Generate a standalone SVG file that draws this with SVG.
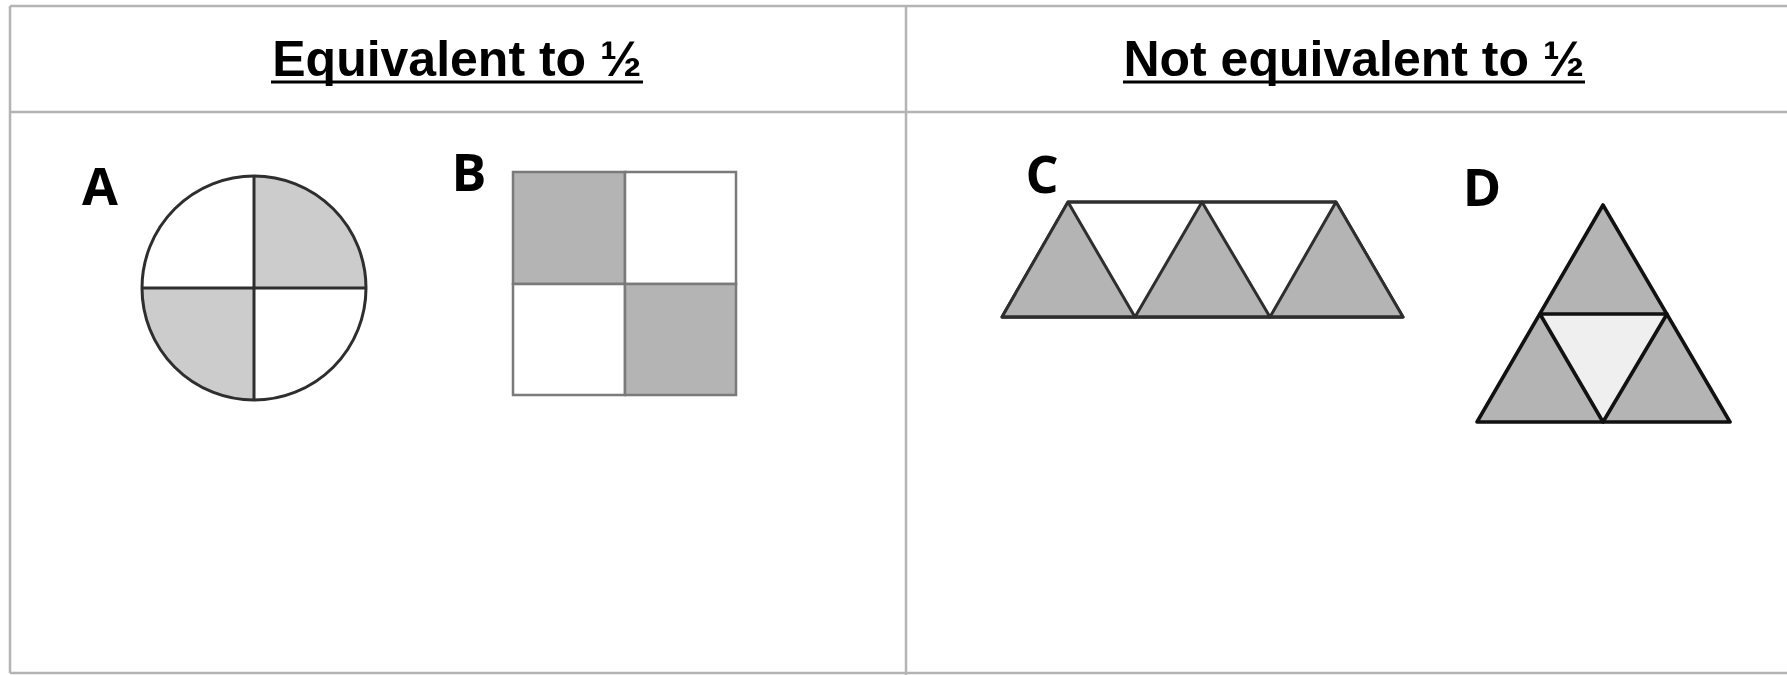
<svg xmlns="http://www.w3.org/2000/svg" width="1787" height="675" viewBox="0 0 1787 675">
<style>
.grid{stroke:#b4b4b4;stroke-width:2.5;fill:none}
.title{font-family:"Liberation Sans",Arial,sans-serif;font-weight:bold;font-size:50px;fill:#000}
.ul{stroke:#000;stroke-width:3}
.lbl{font-family:"Open Sans","Liberation Sans",sans-serif;font-weight:bold;font-size:52px;fill:#000}
.dk{stroke:#2e2e2e;stroke-width:3;stroke-linejoin:round}
.dd{stroke:#111;stroke-width:3.6;stroke-linejoin:round}
.sq{stroke:#7a7a7a;stroke-width:2.5}
.g1{fill:#cccccc}
.g2{fill:#b4b4b4}
.g3{fill:#efefef}
.w{fill:#ffffff}
</style>
<rect width="1787" height="675" fill="#ffffff"/>
<g id="table">
<line class="grid" x1="10" y1="6" x2="1787" y2="6"/>
<line class="grid" x1="10" y1="6" x2="10" y2="673"/>
<line class="grid" x1="10" y1="112" x2="1787" y2="112"/>
<line class="grid" x1="906" y1="6" x2="906" y2="675"/>
<line class="grid" x1="10" y1="673" x2="1787" y2="673"/>
</g>
<g id="header-equivalent">
<text class="title" x="457" y="76" text-anchor="middle">Equivalent to ½</text>
<line class="ul" x1="271" y1="82" x2="643" y2="82"/>
</g>
<g id="header-not-equivalent">
<text class="title" x="1354" y="76" text-anchor="middle">Not equivalent to ½</text>
<line class="ul" x1="1123" y1="82" x2="1585" y2="82"/>
</g>
<g id="shape-A">
<text class="lbl" x="100" y="205" text-anchor="middle">A</text>
<path class="g1" d="M254 288 L254 176 A112 112 0 0 1 366 288 Z"/>
<path class="g1" d="M254 288 L254 400 A112 112 0 0 1 142 288 Z"/>
<circle class="dk" cx="254" cy="288" r="112" fill="none"/>
<line class="dk" x1="254" y1="176" x2="254" y2="400"/>
<line class="dk" x1="142" y1="288" x2="366" y2="288"/>
</g>
<g id="shape-B">
<text class="lbl" x="469" y="191" text-anchor="middle">B</text>
<rect class="sq g2" x="513" y="172" width="112" height="112"/>
<rect class="sq w" x="625" y="172" width="111" height="112"/>
<rect class="sq w" x="513" y="284" width="112" height="111"/>
<rect class="sq g2" x="625" y="284" width="111" height="111"/>
</g>
<g id="shape-C">
<text class="lbl" x="1042" y="193" text-anchor="middle">C</text>
<polygon class="dk w" points="1068,202 1336,202 1403,317 1002,317"/>
<polygon class="dk g2" points="1002,317 1068,202 1135,317"/>
<polygon class="dk g2" points="1135,317 1202,202 1270,317"/>
<polygon class="dk g2" points="1270,317 1336,202 1403,317"/>
<line class="dk" x1="1002" y1="317" x2="1403" y2="317"/>
<line class="dk" x1="1068" y1="202" x2="1336" y2="202"/>
</g>
<g id="shape-D">
<text class="lbl" x="1482" y="206" text-anchor="middle">D</text>
<polygon class="dd g2" points="1603,205 1730,422 1477,422"/>
<polygon class="dd g3" points="1540,314 1667,314 1603,422"/>
</g>
</svg>
